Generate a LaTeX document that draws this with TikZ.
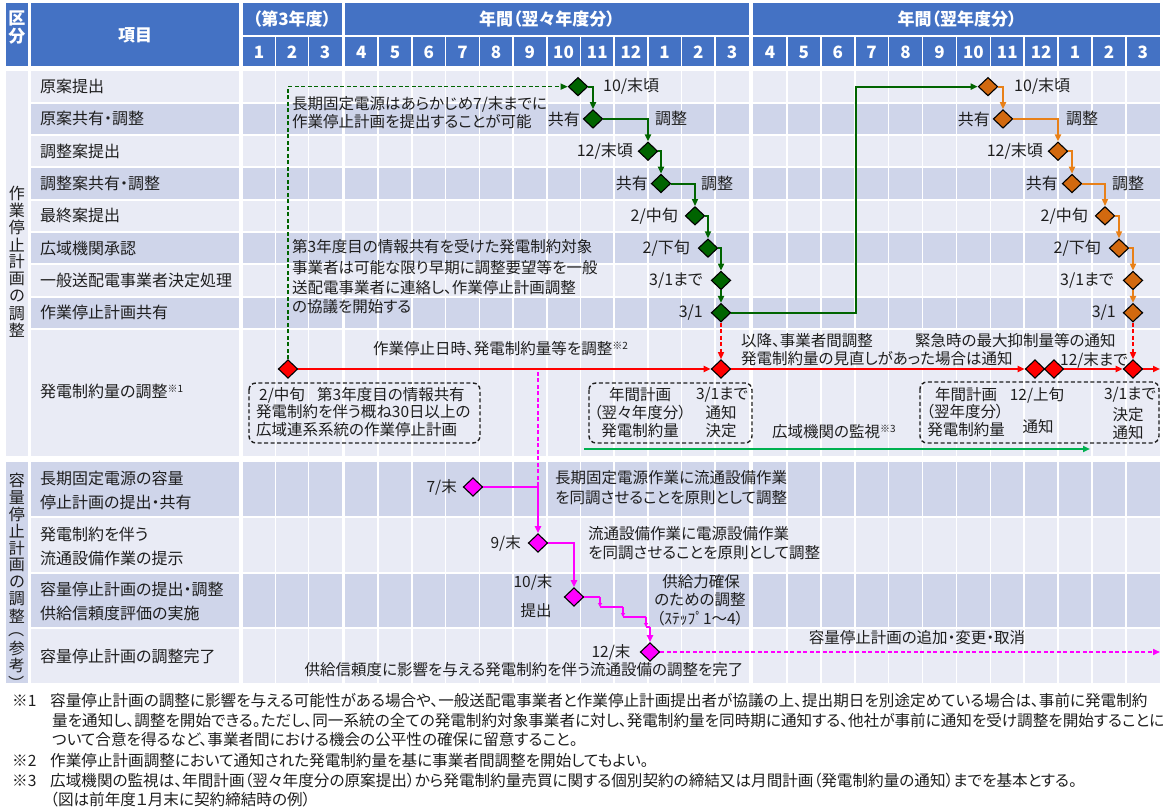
\documentclass[tikz,border=0pt]{standalone}
\usepackage{fontspec}
\setmainfont{Noto Sans CJK JP}[RawFeature=+palt]
\usetikzlibrary{shapes.geometric,arrows.meta}
\definecolor{hdblue}{RGB}{68,114,196}
\definecolor{rowA}{RGB}{233,235,245}
\definecolor{rowB}{RGB}{207,213,234}
\definecolor{dgreen}{RGB}{0,100,0}
\definecolor{lorange}{RGB}{232,128,24}
\definecolor{dorange}{RGB}{210,105,15}
\definecolor{lgreen}{RGB}{0,176,80}
\definecolor{mag}{RGB}{255,0,255}
\definecolor{txt}{RGB}{30,30,30}
\newcommand{\fsA}{\fontsize{16}{19}\selectfont}
\newcommand{\fsC}{\fontsize{15.5}{18}\selectfont}
\newcommand{\fsN}{\fontsize{15.6}{18}\selectfont}
\newcommand{\fsH}{\fontsize{17}{20}\selectfont\bfseries}
\newcommand{\kome}[1]{\raisebox{5pt}{\fontsize{10}{10}\selectfont ※#1}}
\begin{document}
\begin{tikzpicture}[x=1pt,y=-1pt,
  lbl/.style={font=\fsA,inner sep=0pt,text=txt},
  ann/.style={font=\fsC,inner sep=0pt,text=txt},
  note/.style={font=\fsN,inner sep=0pt,text=txt,anchor=west},
  hdtxt/.style={font=\fsH,inner sep=0pt,text=white},
  dia/.style={diamond,draw=black,line width=1.1pt,minimum width=19.5pt,minimum height=18.5pt,inner sep=0pt},
  gd/.style={dia,fill=dgreen}, od/.style={dia,fill=dorange},
  rd/.style={dia,fill=red}, md/.style={dia,fill=mag},
  tip/.style={-{Triangle[length=7pt,width=6pt]}},
  stip/.style={-{Triangle[length=4pt,width=4pt]}},
  gln/.style={draw=dgreen,line width=2pt},
  oln/.style={draw=lorange,line width=2pt},
  rln/.style={draw=red,line width=2pt},
  mln/.style={draw=mag,line width=2pt},
  dsh/.style={dash pattern=on 4pt off 2.5pt,line width=1.3pt},
  dbox/.style={draw=txt,line width=1.4pt,dash pattern=on 4pt off 2.5pt,rounded corners=7pt},
  wl/.style={white,line width=1.6pt}
]
\useasboundingbox (0,0) rectangle (1163,810);
\fill[white] (0,0) rectangle (1163,810);
% ---------- header ----------
\fill[hdblue] (6,3) rectangle (28,66);
\fill[hdblue] (31,3) rectangle (238.5,66);
\fill[hdblue] (242.5,3) rectangle (341.5,35);
\fill[hdblue] (344.5,3) rectangle (748.9,35);
\fill[hdblue] (753,3) rectangle (1159.8,35);
\fill[hdblue] (242.5,37.5) rectangle (341.5,66);
\fill[hdblue] (344.5,37.5) rectangle (748.9,66);
\fill[hdblue] (753,37.5) rectangle (1159.8,66);
% ---------- rows ----------
\fill[rowA] (6,71.5) rectangle (28,456);
\fill[rowB] (6,462.5) rectangle (28,683);
\foreach \ya/\yb/\cc in {70.5/102.8/rowA, 102.8/135.1/rowB, 135.1/167.4/rowA, 167.4/199.7/rowB,
  199.7/232/rowA, 232/264.3/rowB, 264.3/296.6/rowA, 296.6/328.9/rowB, 328.9/457/rowA,
  461.5/517/rowB, 517/572.5/rowA, 572.5/628/rowB, 628/684/rowA}{
  \fill[\cc] (31,\ya+1) rectangle (238.5,\yb-1);
  \fill[\cc] (242.5,\ya+1) rectangle (341.5,\yb-1);
  \fill[\cc] (344.5,\ya+1) rectangle (748.9,\yb-1);
  \fill[\cc] (753,\ya+1) rectangle (1159.8,\yb-1);
}
\foreach \i in {1,2} \draw[wl] ({242.5+33*\i},37.5) -- ({242.5+33*\i},684);
\foreach \i in {1,...,11} \draw[wl] ({344.5+33.7*\i},37.5) -- ({344.5+33.7*\i},684);
\foreach \i in {1,...,11} \draw[wl] ({753+33.9*\i},37.5) -- ({753+33.9*\i},684);
% ---------- header texts ----------
\node[hdtxt] (hku) at (17,18) {区};
\node[hdtxt] (hbun) at (17,36) {分};
\node[hdtxt] (hkm) at (135,35) {項目};
\node[hdtxt] (hy3) at (292,19) {（第3年度）};
\node[hdtxt] (hyB) at (547,19) {年間（翌々年度分）};
\node[hdtxt] (hyC) at (957,19) {年間（翌年度分）};
\foreach \m [count=\i from 0] in {1,2,3}
  \node[hdtxt] (ma\i) at ({242.5+33*(\i+0.5)},52) {\m};
\foreach \m [count=\i from 0] in {4,5,6,7,8,9,10,11,12,1,2,3}
  \node[hdtxt] (mb\i) at ({344.5+33.7*(\i+0.5)},52) {\m};
\foreach \m [count=\i from 0] in {4,5,6,7,8,9,10,11,12,1,2,3}
  \node[hdtxt] (mc\i) at ({753+33.9*(\i+0.5)},52) {\m};
% ---------- vertical category texts ----------
\foreach \ch [count=\i from 0] in {作,業,停,止,計,画,の,調,整}
  \node[lbl] (va\i) at (17,{193+17.2*\i}) {\ch};
\foreach \ch [count=\i from 0] in {容,量,停,止,計,画,の,調,整}
  \node[lbl] (vb\i) at (17,{480+17*\i}) {\ch};
\node[lbl,rotate=-90] (vp1) at (17,633) {（};
\node[lbl] (vp2) at (17,648) {参};
\node[lbl] (vp3) at (17,665) {考};
\node[lbl,rotate=-90] (vp4) at (17,680) {）};
% ---------- row labels ----------
\node[lbl,anchor=west] (l1) at (40,86.65) {原案提出};
\node[lbl,anchor=west] (l2) at (40,118.95) {原案共有・調整};
\node[lbl,anchor=west] (l3) at (40,151.25) {調整案提出};
\node[lbl,anchor=west] (l4) at (40,183.55) {調整案共有・調整};
\node[lbl,anchor=west] (l5) at (40,215.85) {最終案提出};
\node[lbl,anchor=west] (l6) at (40,248.15) {広域機関承認};
\node[lbl,anchor=west] (l7) at (40,280.45) {一般送配電事業者決定処理};
\node[lbl,anchor=west] (l8) at (40,312.75) {作業停止計画共有};
\node[lbl,anchor=west] (l9) at (40,391) {発電制約量の調整\kome{1}};
\node[lbl,anchor=west] (k1a) at (40,478) {長期固定電源の容量};
\node[lbl,anchor=west] (k1b) at (40,502) {停止計画の提出・共有};
\node[lbl,anchor=west] (k2a) at (40,534) {発電制約を伴う};
\node[lbl,anchor=west] (k2b) at (40,558) {流通設備作業の提示};
\node[lbl,anchor=west] (k3a) at (40,589) {容量停止計画の提出・調整};
\node[lbl,anchor=west] (k3b) at (40,613) {供給信頼度評価の実施};
\node[lbl,anchor=west] (k4) at (40,656) {容量停止計画の調整完了};
% ---------- diamonds ----------
\node[gd] (g1) at (578,86.65) {};
\node[gd] (g2) at (593,118.95) {};
\node[gd] (g3) at (648,151.25) {};
\node[gd] (g4) at (661,183.55) {};
\node[gd] (g5) at (695,215.85) {};
\node[gd] (g6) at (708,248.15) {};
\node[gd] (g7) at (721,280.45) {};
\node[gd] (g8) at (721,312.75) {};
\node[od] (o1) at (988,86.65) {};
\node[od] (o2) at (1003,118.95) {};
\node[od] (o3) at (1058,151.25) {};
\node[od] (o4) at (1072,183.55) {};
\node[od] (o5) at (1105,215.85) {};
\node[od] (o6) at (1119,248.15) {};
\node[od] (o7) at (1133,280.45) {};
\node[od] (o8) at (1133,312.75) {};
\node[rd] (r0) at (288,369) {};
\node[rd] (r1) at (721,369) {};
\node[rd] (r2) at (1035,369) {};
\node[rd] (r3) at (1054,369) {};
\node[rd] (r4) at (1133,369) {};
\node[md] (m1) at (473,487) {};
\node[md] (m2) at (538,543) {};
\node[md] (m3) at (574,597) {};
\node[md] (m4) at (650,652) {};
% ---------- coordinates ----------
\coordinate (gk) at (856,86.65);
\coordinate (rend) at (1160,369);
\coordinate (mtop) at (538,372);
\coordinate (mend) at (1160,652);
\coordinate (lg1) at (584,449);
\coordinate (lg2) at (1090,449);
\coordinate (s1) at (600,597);
\coordinate (s2) at (600,607);
\coordinate (s3) at (623,607);
\coordinate (s4) at (623,617);
\coordinate (s5) at (646,617);
\coordinate (s6) at (646,627);
\coordinate (s7) at (650,627);
% ---------- connectors ----------
\draw[draw=dgreen,dsh,tip] (r0.north) |- (g1.west);
\draw[gln,tip] (g1.east) -| (g2.north);
\draw[gln,tip] (g2.east) -| (g3.north);
\draw[gln,tip] (g3.east) -| (g4.north);
\draw[gln,tip] (g4.east) -| (g5.north);
\draw[gln,tip] (g5.east) -| (g6.north);
\draw[gln,tip] (g6.east) -| (g7.north);
\draw[gln,tip] (g7.south) -- (g8.north);
\draw[gln,tip] (g8.east) -| (gk) -- (o1.west);
\draw[oln,tip] (o1.east) -| (o2.north);
\draw[oln,tip] (o2.east) -| (o3.north);
\draw[oln,tip] (o3.east) -| (o4.north);
\draw[oln,tip] (o4.east) -| (o5.north);
\draw[oln,tip] (o5.east) -| (o6.north);
\draw[oln,tip] (o6.east) -| (o7.north);
\draw[oln,tip] (o7.south) -- (o8.north);
\draw[draw=red,dsh,tip] (g8.south) -- (r1.north);
\draw[draw=red,dsh,tip] (o8.south) -- (r4.north);
\draw[rln,tip] (r0.east) -- (r1.west);
\draw[rln,tip] (r1.east) -- (r2.west);
\draw[rln,tip] (r3.east) -- (r4.west);
\draw[rln,tip] (r4.east) -- (rend);
\draw[draw=mag,dsh] (mtop) -- (m2.north |- m1.east);
\draw[mln,tip] (m1.east) -| (m2.north);
\draw[mln,tip] (m2.east) -| (m3.north);
\draw[mln] (m3.east) -- (s1);
\draw[mln,stip] (s1) -- (s2);
\draw[mln] (s2) -- (s3);
\draw[mln,stip] (s3) -- (s4);
\draw[mln] (s4) -- (s5);
\draw[mln,stip] (s5) -- (s6);
\draw[mln] (s6) -- (s7);
\draw[mln,tip] (s7) -- (m4.north);
\draw[draw=mag,dsh,line width=1.5pt,tip] (m4.east) -- (mend);
\draw[draw=lgreen,line width=2pt,tip] (lg1) -- (lg2);
% ---------- dashed boxes ----------
\draw[dbox] (249,383) rectangle (480,443);
\draw[dbox] (589,383) rectangle (752,443);
\draw[dbox] (920,382) rectangle (1159,443);
% ---------- green / orange labels ----------
\node[lbl,anchor=west] (tg1) at (603,86.65) {10/末頃};
\node[lbl,anchor=east] (tg2) at (580,118.95) {共有};
\node[lbl,anchor=west] (tg2b) at (655,118.95) {調整};
\node[lbl,anchor=east] (tg3) at (633,151.25) {12/末頃};
\node[lbl,anchor=east] (tg4) at (648,183.55) {共有};
\node[lbl,anchor=west] (tg4b) at (701,183.55) {調整};
\node[lbl,anchor=east] (tg5) at (678,215.85) {2/中旬};
\node[lbl,anchor=east] (tg6) at (690,248.15) {2/下旬};
\node[lbl,anchor=east] (tg7) at (703,280.45) {3/1まで};
\node[lbl,anchor=east] (tg8) at (703,312.75) {3/1};
\node[lbl,anchor=west] (to1) at (1014,86.65) {10/末頃};
\node[lbl,anchor=east] (to2) at (990,118.95) {共有};
\node[lbl,anchor=west] (to2b) at (1066,118.95) {調整};
\node[lbl,anchor=east] (to3) at (1043,151.25) {12/末頃};
\node[lbl,anchor=east] (to4) at (1058,183.55) {共有};
\node[lbl,anchor=west] (to4b) at (1112,183.55) {調整};
\node[lbl,anchor=east] (to5) at (1088,215.85) {2/中旬};
\node[lbl,anchor=east] (to6) at (1101,248.15) {2/下旬};
\node[lbl,anchor=east] (to7) at (1114,280.45) {3/1まで};
\node[lbl,anchor=east] (to8) at (1116,312.75) {3/1};
% ---------- annotations ----------
\node[ann,anchor=west] (a1) at (292,104) {長期固定電源はあらかじめ7/末までに};
\node[ann,anchor=west] (a2) at (292,122) {作業停止計画を提出することが可能};
\node[ann,anchor=west] (a3) at (292,247) {第3年度目の情報共有を受けた発電制約対象};
\node[ann,anchor=west] (a4) at (292,268) {事業者は可能な限り早期に調整要望等を一般};
\node[ann,anchor=west] (a5) at (292,288) {送配電事業者に連絡し、作業停止計画調整};
\node[ann,anchor=west] (a6) at (292,307) {の協議を開始する};
\node[ann,anchor=west] (a7) at (373,349) {作業停止日時、発電制約量等を調整\kome{2}};
\node[ann,anchor=west] (a8) at (741,341) {以降、事業者間調整};
\node[ann,anchor=west] (a9) at (741,359) {発電制約量の見直しがあった場合は通知};
\node[ann,anchor=west] (a10) at (915,341) {緊急時の最大抑制量等の通知};
\node[ann,anchor=west] (a11) at (1060,360) {12/末まで};
% box 1
\node[ann,anchor=west] (b1a) at (259,395) {2/中旬};
\node[ann,anchor=west] (b1b) at (317,395) {第3年度目の情報共有};
\node[ann,anchor=west] (b1c) at (256,412) {発電制約を伴う概ね30日以上の};
\node[ann,anchor=west] (b1d) at (256,430) {広域連系系統の作業停止計画};
% box 2
\node[ann] (b2a) at (640,395) {年間計画};
\node[ann] (b2b) at (640,413) {（翌々年度分）};
\node[ann] (b2c) at (640,431) {発電制約量};
\node[ann] (b2d) at (722,395) {3/1まで};
\node[ann] (b2e) at (721,413) {通知};
\node[ann] (b2f) at (721,431) {決定};
% box 3
\node[ann] (b3a) at (966,395) {年間計画};
\node[ann] (b3b) at (965,412) {（翌年度分）};
\node[ann] (b3c) at (966,430) {発電制約量};
\node[ann] (b3d) at (1037,395) {12/上旬};
\node[ann] (b3e) at (1038,427) {通知};
\node[ann] (b3f) at (1130,395) {3/1まで};
\node[ann] (b3g) at (1128,415) {決定};
\node[ann] (b3h) at (1128,433) {通知};
\node[ann,anchor=west] (kk) at (772,432) {広域機関の監視\kome{3}};
% magenta texts
\node[ann,anchor=east] (tm1) at (457,487) {7/末};
\node[ann,anchor=west] (tm1a) at (555,478) {長期固定電源作業に流通設備作業};
\node[ann,anchor=west] (tm1b) at (555,498) {を同調させることを原則として調整};
\node[ann,anchor=east] (tm2) at (521,543) {9/末};
\node[ann,anchor=west] (tm2a) at (588,534) {流通設備作業に電源設備作業};
\node[ann,anchor=west] (tm2b) at (588,553) {を同調させることを原則として調整};
\node[ann] (tm3) at (533,582) {10/末};
\node[ann] (tm3b) at (536,611) {提出};
\node[ann] (tm3c) at (701,582) {供給力確保};
\node[ann] (tm3d) at (700,600) {のための調整};
\node[ann] (tm3e) at (700,619) {（ｽﾃｯﾌﾟ1～4）};
\node[ann] (tm4) at (611,652) {12/末};
\node[ann] (tm4b) at (524,670) {供給信頼度に影響を与える発電制約を伴う流通設備の調整を完了};
\node[ann] (tm5) at (917,638) {容量停止計画の追加・変更・取消};
% ---------- notes ----------
\node[note] (n1k) at (12,701) {※1};
\node[note] (n1a) at (50,701) {容量停止計画の調整に影響を与える可能性がある場合や、一般送配電事業者と作業停止計画提出者が協議の上、提出期日を別途定めている場合は、事前に発電制約};
\node[note] (n1b) at (52,721) {量を通知し、調整を開始できる。ただし、同一系統の全ての発電制約対象事業者に対し、発電制約量を同時期に通知する、他社が事前に通知を受け調整を開始することに};
\node[note] (n1c) at (52,740) {ついて合意を得るなど、事業者間における機会の公平性の確保に留意すること。};
\node[note] (n2k) at (12,761) {※2};
\node[note] (n2a) at (50,761) {作業停止計画調整において通知された発電制約量を基に事業者間調整を開始してもよい。};
\node[note] (n3k) at (12,781) {※3};
\node[note] (n3a) at (50,781) {広域機関の監視は、年間計画（翌々年度分の原案提出）から発電制約量売買に関する個別契約の締結又は月間計画（発電制約量の通知）までを基本とする。};
\node[note] (n4) at (50,800) {（図は前年度１月末に契約締結時の例）};
\end{tikzpicture}
\end{document}
